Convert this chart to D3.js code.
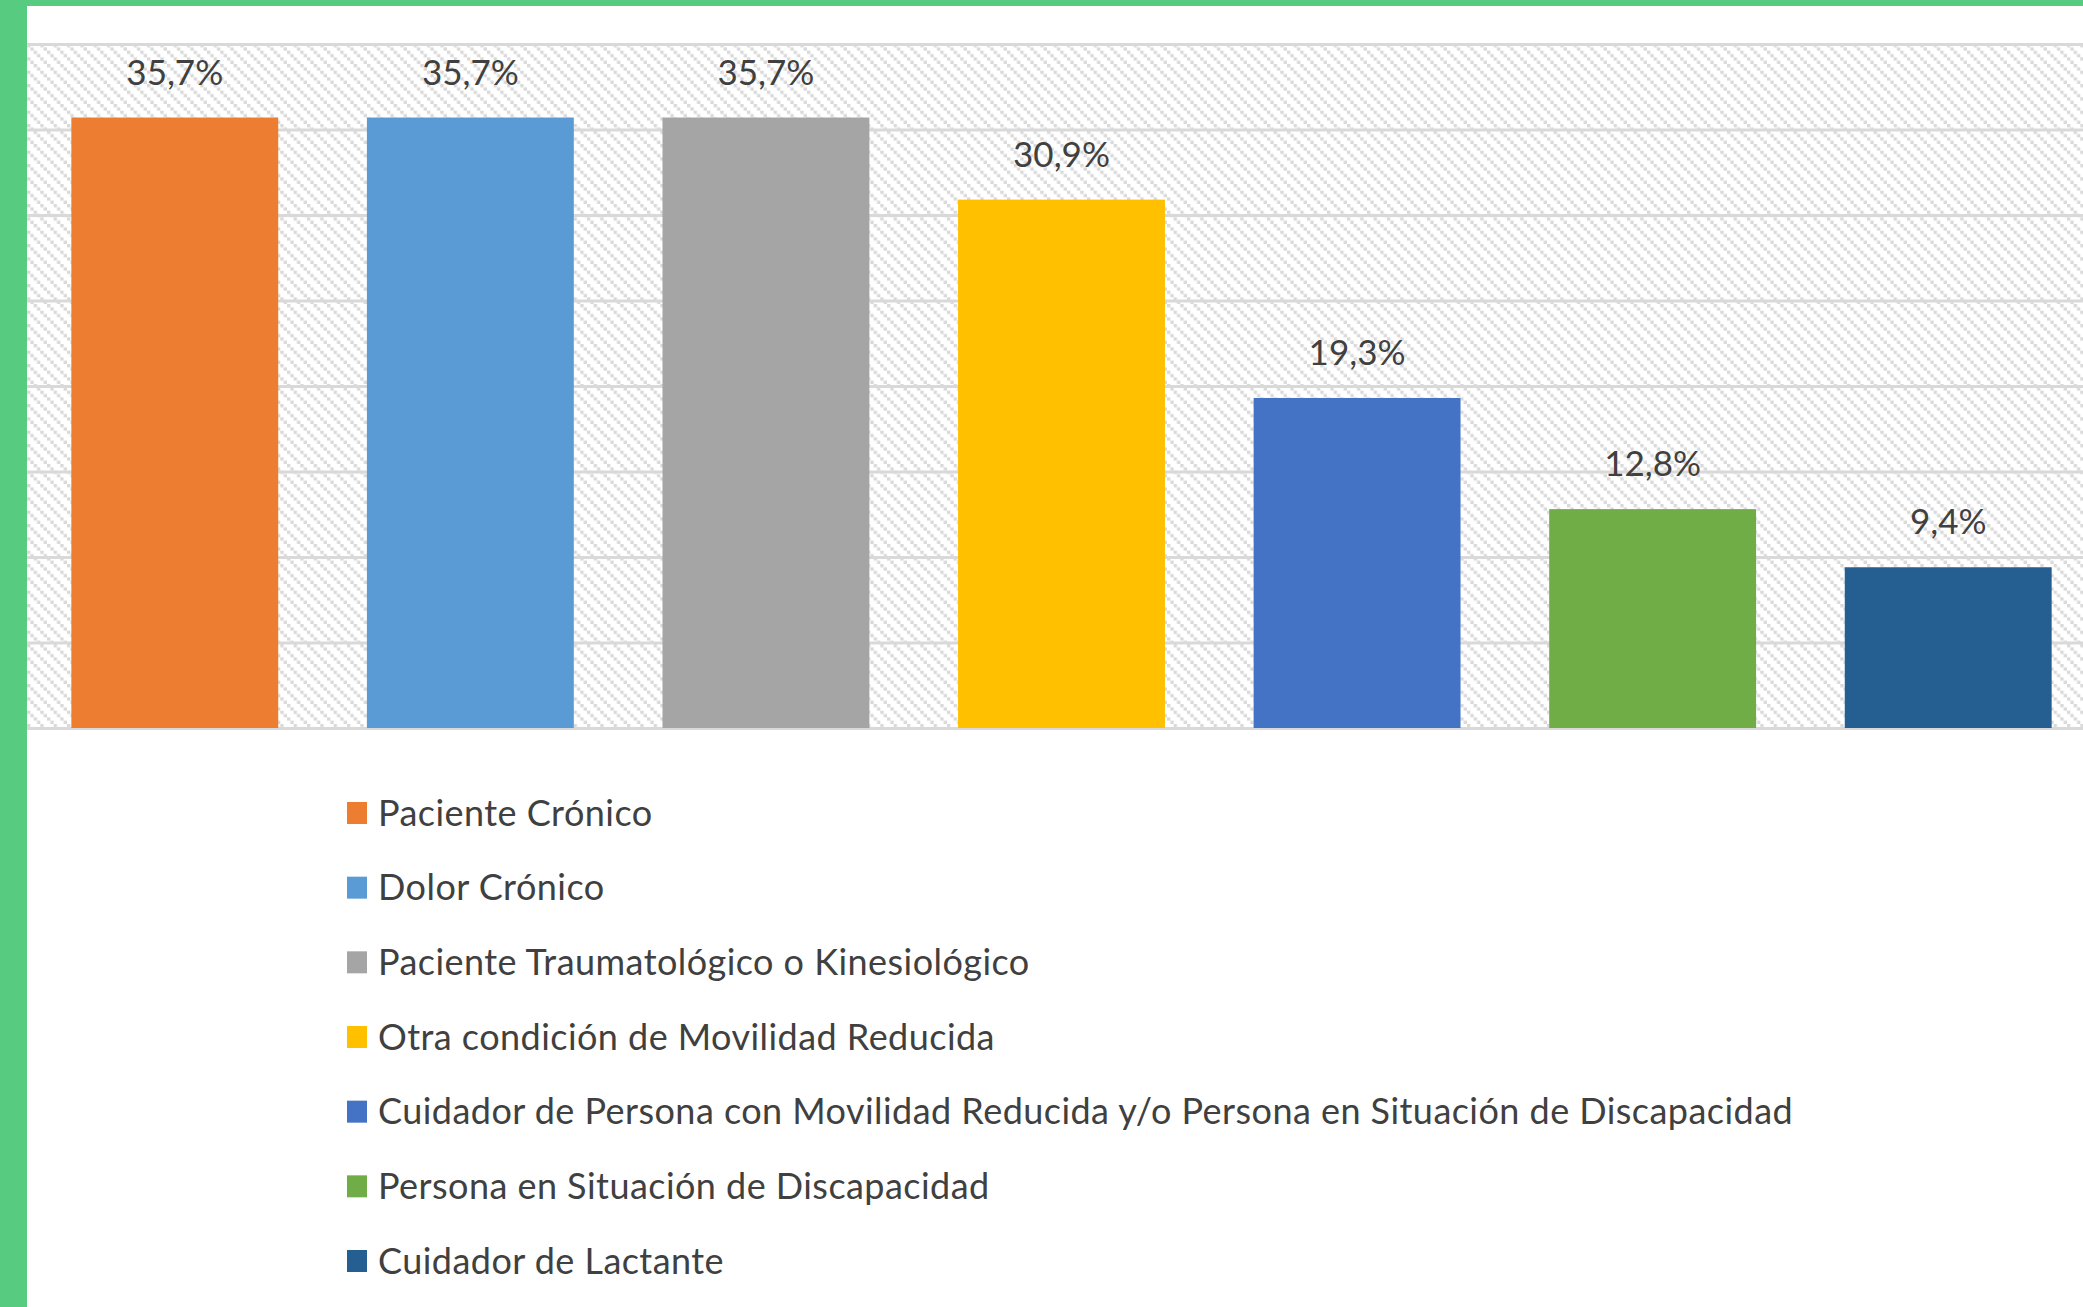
<!DOCTYPE html>
<html>
<head>
<meta charset="utf-8">
<script src="https://cdn.jsdelivr.net/npm/d3@7"></script>
<style>
  html, body { margin: 0; padding: 0; background: #fff; overflow: hidden; }
  svg { display: block; }
  text { font-family: Lato, "Open Sans", sans-serif; fill: #404040; }
</style>
</head>
<body>
<svg id="chart" width="2083" height="1307"></svg>
<script>
const categories = [
  "Paciente Crónico",
  "Dolor Crónico",
  "Paciente Traumatológico o Kinesiológico",
  "Otra condición de Movilidad Reducida",
  "Cuidador de Persona con Movilidad Reducida y/o Persona en Situación de Discapacidad",
  "Persona en Situación de Discapacidad",
  "Cuidador de Lactante"
];
const values = [35.7, 35.7, 35.7, 30.9, 19.3, 12.8, 9.4];
const colors = ["#ED7D31", "#5B9BD5", "#A5A5A5", "#FFC000", "#4472C4", "#70AD47", "#255E91"];
const yTicks = [0, 5, 10, 15, 20, 25, 30, 35, 40];

const W = 2083, H = 1307;
const svg = d3.select("#chart");

const plot = { left: 27, right: 2096, top: 44, bottom: 728 };

// Hatch pattern
const defs = svg.append("defs");
const blk = 10 / 3;
const pat = defs.append("pattern")
  .attr("id", "hatch")
  .attr("patternUnits", "userSpaceOnUse")
  .attr("width", blk * 4).attr("height", blk * 4)
  .attr("x", plot.left).attr("y", plot.top);
pat.append("rect").attr("width", blk * 4).attr("height", blk * 4).attr("fill", "#fff");
d3.range(4).forEach(i => {
  pat.append("rect")
    .attr("x", i * blk).attr("y", i * blk)
    .attr("width", blk).attr("height", blk)
    .attr("fill", "#D9D9D9");
});

svg.append("rect").attr("width", W).attr("height", H).attr("fill", "#fff");

const x = d3.scaleBand()
  .domain(categories)
  .range([plot.left, plot.right])
  .paddingInner(0.3)
  .paddingOuter(0.15);

const y = d3.scaleLinear().domain([0, 40]).range([plot.bottom, plot.top]);

svg.append("rect")
  .attr("x", plot.left).attr("y", plot.top)
  .attr("width", plot.right - plot.left).attr("height", plot.bottom - plot.top)
  .attr("fill", "url(#hatch)");

// Gridlines via axis
const grid = svg.append("g")
  .attr("transform", `translate(${plot.left},0)`)
  .call(d3.axisRight(y).tickValues(yTicks).tickSize(plot.right - plot.left).tickFormat(""));
grid.select(".domain").remove();
grid.selectAll(".tick line").attr("stroke", "#D9D9D9").attr("stroke-width", 3);

// Bars
svg.append("g").selectAll("rect")
  .data(categories)
  .join("rect")
  .attr("x", d => x(d))
  .attr("y", (d, i) => y(values[i]))
  .attr("width", x.bandwidth())
  .attr("height", (d, i) => y(0) - y(values[i]))
  .attr("fill", (d, i) => colors[i]);

// Data labels
const fmt = v => d3.format(".1f")(v).replace(".", ",") + "%";
svg.append("g").selectAll("text")
  .data(categories)
  .join("text")
  .attr("x", d => x(d) + x.bandwidth() / 2)
  .attr("y", (d, i) => y(values[i]) - 33)
  .attr("text-anchor", "middle")
  .attr("font-size", 35)
  .text((d, i) => fmt(values[i]));

// Legend
const legend = svg.append("g");
const ly = d3.scaleLinear().domain([0, categories.length - 1]).range([813, 1261]);
categories.forEach((c, i) => {
  const g = legend.append("g").attr("transform", `translate(347,${ly(i)})`);
  g.append("rect").attr("x", 0).attr("y", -11).attr("width", 20).attr("height", 22).attr("fill", colors[i]);
  g.append("text").attr("x", 31).attr("y", 0).attr("dy", "0.35em")
    .attr("font-size", 36).attr("letter-spacing", "0.45px").text(c);
});

// Green border
svg.append("rect").attr("x", 0).attr("y", 0).attr("width", W).attr("height", 6).attr("fill", "#57CC80");
svg.append("rect").attr("x", 0).attr("y", 0).attr("width", 27).attr("height", H).attr("fill", "#57CC80");
</script>
</body>
</html>
